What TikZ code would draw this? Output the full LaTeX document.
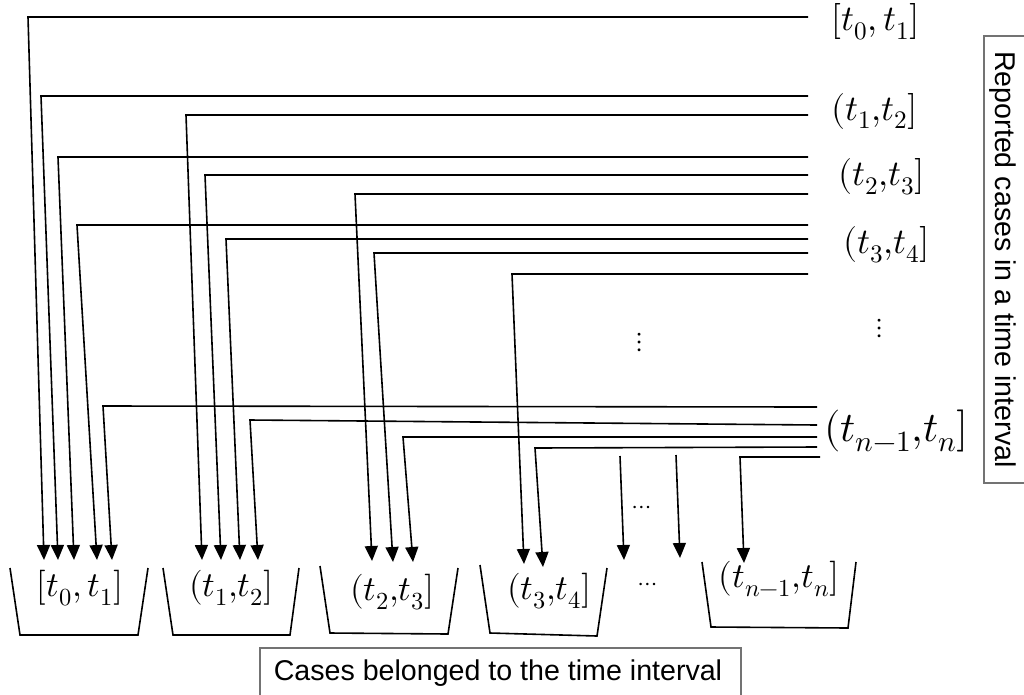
\documentclass[tikz,border=0pt]{standalone}
\usepackage{fontspec}
\usepackage{unicode-math}
\newfontfamily\arial{Liberation Sans}
\usetikzlibrary{arrows.meta}
\begin{document}
\begin{tikzpicture}[x=1pt,y=-1pt,
  wire/.style={line width=1.6pt,-{Triangle[width=13pt,length=15pt]}},
  bucket/.style={line width=1.6pt},
  lab/.style={inner sep=0pt,font=\fontsize{35}{40}\selectfont},
  rlab/.style={inner sep=0pt,anchor=west,font=\fontsize{36}{42}\selectfont},
  dotsl/.style={inner sep=0pt,font=\fontsize{28}{32}\selectfont},
  hdots/.style={inner sep=0pt,font=\fontsize{24}{28}\selectfont},
  frame/.style={draw=black!55,line width=1.2pt},
  sans/.style={inner sep=0pt,font=\arial\fontsize{28.6}{34}\selectfont}
]
\useasboundingbox (0,0) rectangle (1024,694);

% connectors: start (right), corner, tip
\foreach \i/\sx/\sy/\cx/\cy/\tx/\ty in {
  1/808/17/28/17/44/560,
  2/808/96/41/96/58/560,
  3/808/115/186/115/202/560,
  4/808/157/58/157/74/560,
  5/808/175/205/175/221/560,
  6/808/194/355/194/372/561,
  7/808/225/77/225/97/560,
  8/808/239/226/239/240/560,
  9/808/253/374/253/393/562,
  10/808/274/512/274/524/564,
  11/817/407/103/406/112/560,
  12/817/425/250/420/258/560,
  13/817/437/403/437/413/562,
  14/817/447/535/448/543/567,
  15/820/457/740/457/744/563}{
  \coordinate (s\i) at (\sx,\sy);
  \coordinate (c\i) at (\cx,\cy);
  \coordinate (e\i) at (\tx,\ty);
  \draw[wire] (s\i) -- (c\i) -- (e\i);
}
% free arrows
\coordinate (fa1) at (620,456); \coordinate (fb1) at (624,560);
\coordinate (fa2) at (676,455); \coordinate (fb2) at (680,558);
\draw[wire] (fa1) -- (fb1);
\draw[wire] (fa2) -- (fb2);

% buckets
\draw[bucket] (10,568) -- (20,635) -- (138,635) -- (148,568);
\draw[bucket] (163,568) -- (173,635) -- (290,635) -- (299,568);
\draw[bucket] (320,566) -- (330,633) -- (448,634) -- (458,568);
\draw[bucket] (480,565) -- (490,633) -- (597,636) -- (607,568);
\draw[bucket] (702,562) -- (711,627) -- (848,628) -- (856,562);

% bucket labels
\node[lab] (b0) at (80,588) {$[t_0, t_1]$};
\node[lab] (b1) at (231,588) {$(t_1{,}t_2]$};
\node[lab] (b2) at (392,592) {$(t_2{,}t_3]$};
\node[lab] (b3) at (549,591) {$(t_3{,}t_4]$};
\node[lab] (bn) at (779,579) {$(t_{n-1}{,}t_n]$};
\node[hdots] (bd) at (648,587) {$\cdots$};
\node[hdots] (md) at (642,510) {$\cdots$};

% right labels
\node[rlab] (r0) at (831,22) {$[t_0, t_1]$};
\node[rlab] (r1) at (831,111) {$(t_1{,}t_2]$};
\node[rlab] (r2) at (838,177) {$(t_2{,}t_3]$};
\node[rlab] (r3) at (843,245) {$(t_3{,}t_4]$};
\node[rlab,font=\fontsize{42}{48}\selectfont] (rn) at (824,431) {$(t_{n-1}{,}t_n]$};
\node[dotsl] (rv) at (880,328) {$\vdots$};
\node[dotsl] (mv) at (640,342) {$\vdots$};

% framed captions
\draw[frame] (1030,36) -- (984,36) -- (984,483) -- (1030,483);
\node[sans,rotate=-90,anchor=base] (cap1) at (995,259.5) {Reported cases in a time interval};
\draw[frame] (260,700) -- (260,648) -- (741,648) -- (741,700);
\node[sans,anchor=base] (cap2) at (498,680) {Cases belonged to the time interval};
\end{tikzpicture}
\end{document}
